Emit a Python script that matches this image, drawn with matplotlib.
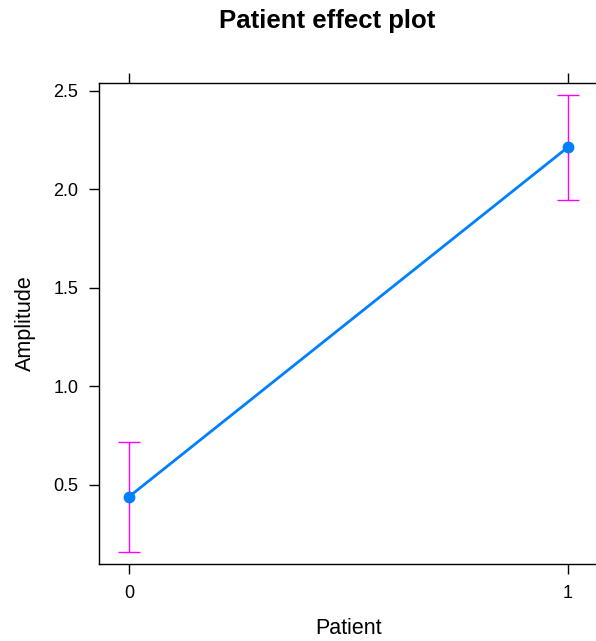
import matplotlib
matplotlib.use('Agg')
import matplotlib.pyplot as plt

plt.rcParams['font.family'] = ['Liberation Sans', 'DejaVu Sans']

# data
patient = [0, 1]
amplitude = [0.44, 2.215]
lower = [0.16, 1.945]
upper = [0.72, 2.48]

fig = plt.figure(figsize=(5.96, 6.41), dpi=100)
ax = fig.add_axes([0.1661, 0.1201, 0.8372, 0.7504])

ax.plot(patient, amplitude, color='#0080ff', lw=2, marker='o', ms=7.5, zorder=3)
err_lo = [a - l for a, l in zip(amplitude, lower)]
err_hi = [u - a for a, u in zip(amplitude, upper)]
ax.errorbar(patient, amplitude, yerr=[err_lo, err_hi], fmt='none',
            ecolor='#ff00ff', elinewidth=1, capsize=8, capthick=1, zorder=2)

ax.set_xlim(-0.068, 1.068)
ax.set_ylim(0.099, 2.54)
ax.set_xticks(patient)
ax.set_xticklabels(['0', '1'])
ax.set_yticks([0.5, 1.0, 1.5, 2.0, 2.5])
ax.set_yticklabels(['0.5', '1.0', '1.5', '2.0', '2.5'])
ax.tick_params(axis='both', direction='out', length=7, width=1, labelsize=13,
               pad=8, top=True, right=True, labeltop=False, labelright=False)
for s in ax.spines.values():
    s.set_linewidth(1)

fig.text(349 / 596, 1 - 629 / 641, 'Patient', ha='center', va='center', fontsize=15.5)
fig.text(25 / 596, 1 - 323 / 641, 'Amplitude', ha='center', va='center',
         rotation=90, fontsize=15.5)
fig.text(327.5 / 596, 1 - 28 / 641, 'Patient effect plot', ha='center', va='baseline',
         fontsize=18.5, fontweight='bold')

fig.savefig('out.png', dpi=100)
